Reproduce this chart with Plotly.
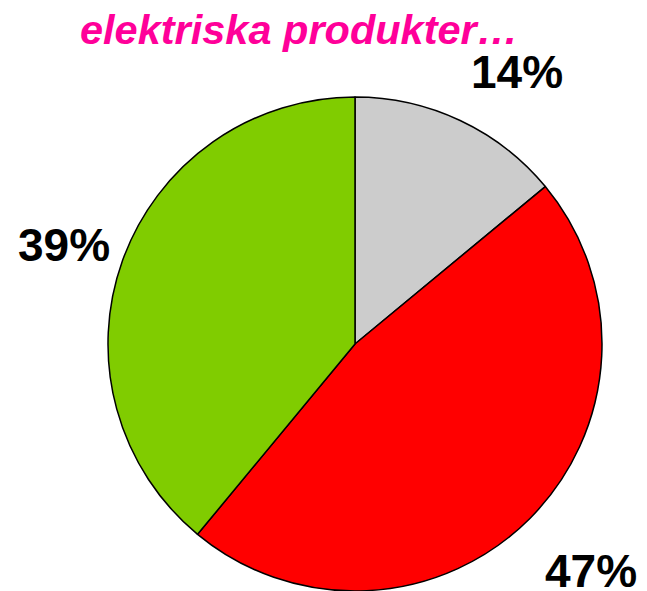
import plotly.graph_objects as go

categories = ["Grå", "Röd", "Grön"]
values = [14, 47, 39]
colors = ["#CCCCCC", "#FF0000", "#80CC00"]
title_text = "elektriska produkter…"

W, H = 647, 591
OFF = 8  # page body margin offset
L, R, T, B = 108 - OFF, 45 + OFF, 97 - OFF, 0 + OFF
PW, PH = W - L - R, H - T - B

def px(x, y):
    x, y = x - OFF, y - OFF
    return (x - L) / PW, (H - B - y) / PH

fig = go.Figure(go.Pie(
    labels=categories, values=values, sort=False, direction="clockwise",
    rotation=0, marker=dict(colors=colors, line=dict(color="black", width=1.5)),
    textinfo="none", hoverinfo="label+percent", showlegend=False,
))

label_pos = [(517, 72), (591, 571), (64, 245)]
for v, (x, y) in zip(values, label_pos):
    xp, yp = px(x, y)
    fig.add_annotation(x=xp, y=yp, xref="paper", yref="paper", text=f"<b>{v}%</b>",
                       showarrow=False, xanchor="center", yanchor="middle",
                       font=dict(family="Liberation Sans, Arial", size=46, color="black"))

xp, yp = px(299, 29)
fig.add_annotation(x=xp, y=yp, xref="paper", yref="paper", text=f"<b><i>{title_text}</i></b>",
                   showarrow=False, xanchor="center", yanchor="middle",
                   font=dict(family="Liberation Sans, Arial", size=41.5, color="#FF0099"))

fig.update_layout(width=W, height=H, margin=dict(l=L, r=R, t=T, b=B, pad=0, autoexpand=False),
                  paper_bgcolor="white", plot_bgcolor="white")
fig.write_html("out.html")
